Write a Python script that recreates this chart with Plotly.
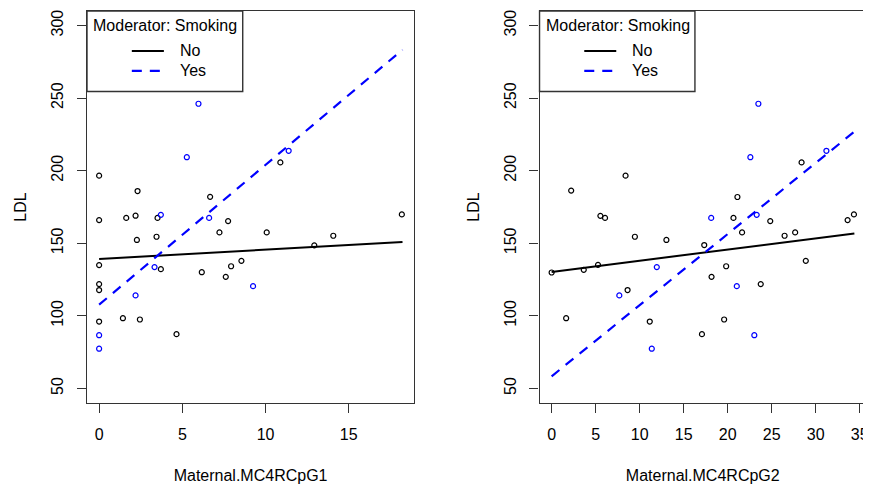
import plotly.graph_objects as go

# ---- data ----
left_no_x = [0, 2.31, 6.67, 1.63, 2.19, 3.51, 7.75, 2.27, 3.45, 7.23, 10.07, 14.07, 12.93, 18.19,
             0, 3.71, 6.17, 8.55, 7.93, 7.61, 0, 0, 0, 1.43, 2.45, 4.65, 0, 10.89]
left_no_y = [166, 186, 182, 167.5, 169, 167.5, 165.3, 152.3, 154.5, 157.5, 157.5, 155.2, 148.6, 169.9,
             135, 132.2, 130.1, 137.9, 134.2, 126.9, 121.9, 117.8, 96.1, 98.4, 97.5, 87.4, 196.6, 205.7]
left_yes_x = [5.97, 5.27, 11.39, 3.71, 6.61, 3.33, 2.19, 9.25, 0, 0]
left_yes_y = [246.1, 209.3, 213.7, 169.6, 167.5, 133.6, 114.1, 120.5, 86.7, 77.4]

right_no_x = [2.22, 21.11, 5.54, 6.07, 20.66, 24.84, 21.64, 26.47, 27.67, 33.63, 34.35, 9.46, 13.04, 17.34,
              5.27, 0, 3.65, 19.83, 18.17, 28.88, 23.76, 8.63, 1.65, 19.6, 11.15, 17.08, 8.4, 28.4]
right_no_y = [186.3, 181.9, 168.9, 167.5, 167.5, 165.3, 157.5, 155.2, 157.5, 166, 169.9, 154.5, 152.3, 148.8,
              135.1, 129.9, 131.7, 134.2, 126.9, 137.9, 121.9, 117.8, 98.4, 97.5, 96.1, 87.4, 196.6, 205.7]
right_yes_x = [23.49, 22.58, 31.22, 18.13, 23.3, 11.95, 7.69, 21.04, 23.03, 11.38]
right_yes_y = [246.1, 209.3, 213.7, 167.5, 169.6, 133.6, 114.1, 120.5, 86.7, 77.4]

left_line_x = [0, 18.23]
left_no_line_y = [139.2, 150.9]
left_yes_line_y = [107.7, 283.3]
right_line_x = [0, 34.4]
right_no_line_y = [130.3, 156.8]
right_yes_line_y = [58.4, 226.9]

x_titles = ["Maternal.MC4RCpG1", "Maternal.MC4RCpG2"]
y_title = "LDL"
legend_title = "Moderator: Smoking"
groups = ["No", "Yes"]
left_xticks = [0, 5, 10, 15]
right_xticks = [0, 5, 10, 15, 20, 25, 30, 35]
y_ticks = [50, 100, 150, 200, 250, 300]

BLACK = "#000000"
FRAME = "#333333"
BLUE = "#0000FF"
FONT = "Arial, Liberation Sans, sans-serif"

fig = go.Figure()

panels = [
    ("x", "y", left_no_x, left_no_y, left_yes_x, left_yes_y, left_line_x, left_no_line_y, left_line_x, left_yes_line_y),
    ("x2", "y2", right_no_x, right_no_y, right_yes_x, right_yes_y, right_line_x, right_no_line_y, right_line_x, right_yes_line_y),
]
for xa, ya, nx, ny, yx, yy, lnx, lny, lyx, lyy in panels:
    fig.add_trace(go.Scatter(x=nx, y=ny, mode="markers", xaxis=xa, yaxis=ya, showlegend=False,
                             marker=dict(symbol="circle-open", size=5, color=BLACK, line=dict(width=1.2, color=BLACK))))
    fig.add_trace(go.Scatter(x=yx, y=yy, mode="markers", xaxis=xa, yaxis=ya, showlegend=False,
                             marker=dict(symbol="circle-open", size=5, color=BLUE, line=dict(width=1.2, color=BLUE))))
    fig.add_trace(go.Scatter(x=lnx, y=lny, mode="lines", xaxis=xa, yaxis=ya, name=groups[0], showlegend=False,
                             line=dict(color=BLACK, width=2)))
    fig.add_trace(go.Scatter(x=lyx, y=lyy, mode="lines", xaxis=xa, yaxis=ya, name=groups[1], showlegend=False,
                             line=dict(color=BLUE, width=2.2, dash="10px,8px")))

axis_common = dict(showline=True, mirror=True, linecolor=FRAME, linewidth=1.4, showgrid=False, zeroline=False,
                   ticks="outside", ticklen=9, tickcolor=FRAME, tickwidth=1.2,
                   tickfont=dict(family=FONT, size=16, color=BLACK))

# page has an 8px body margin; compensate so plot boxes land where the reference has them
OFF = 8
W, H = 871 - OFF, 486 - OFF
L = 87 - OFF
T = 10 - OFF
R = W - (868 - OFF)
B = H - (402.7 - OFF)
plot_w = W - L - R
left_dom = [0, (415 - 87) / plot_w]
right_dom = [(540.7 - 87) / plot_w, 1]

fig.update_layout(
    width=W, height=H,
    margin=dict(l=L, r=R, t=T, b=B),
    paper_bgcolor="white", plot_bgcolor="white",
    font=dict(family=FONT, size=16, color=BLACK),
    xaxis=dict(domain=left_dom, range=[-0.728, 18.93], tickvals=left_xticks, anchor="y",
               title=dict(text=x_titles[0], standoff=27, font=dict(size=16)), ticklabelstandoff=8, **axis_common),
    yaxis=dict(domain=[0, 1], range=[40, 310], tickvals=y_ticks, anchor="x", tickangle=-90,
               title=dict(text=y_title, standoff=18, font=dict(size=16)), ticklabelstandoff=7, **axis_common),
    xaxis2=dict(domain=right_dom, range=[-1.374, 35.72], tickvals=right_xticks, anchor="y2",
                title=dict(text=x_titles[1], standoff=27, font=dict(size=16)), ticklabelstandoff=8,
                ticklabeloverflow="allow", **axis_common),
    yaxis2=dict(domain=[0, 1], range=[40, 310], tickvals=y_ticks, anchor="x2", tickangle=-90,
                title=dict(text=y_title, standoff=18, font=dict(size=16)), ticklabelstandoff=7, **axis_common),
)

# manual legends (one per panel)
box_r = 0.476
box_b = 0.7945
for xa, ya in [("x", "y"), ("x2", "y2")]:
    xr = f"{xa} domain"
    yr = f"{ya} domain"
    fig.add_shape(type="rect", xref=xr, yref=yr, x0=0, x1=box_r, y0=box_b, y1=1,
                  line=dict(color=FRAME, width=1.4), fillcolor="white", layer="above")
    fig.add_annotation(xref=xr, yref=yr, x=0.0134, y=0.9618, text=legend_title, showarrow=False,
                       xanchor="left", yanchor="middle", font=dict(family=FONT, size=16, color=BLACK))
    fig.add_shape(type="line", xref=xr, yref=yr, x0=0.137, x1=0.235, y0=0.898, y1=0.898,
                  line=dict(color=BLACK, width=2), layer="above")
    fig.add_shape(type="line", xref=xr, yref=yr, x0=0.137, x1=0.235, y0=0.8473, y1=0.8473,
                  line=dict(color=BLUE, width=2.2, dash="10px,8px"), layer="above")
    fig.add_annotation(xref=xr, yref=yr, x=0.2777, y=0.898, text=groups[0], showarrow=False,
                       xanchor="left", yanchor="middle", font=dict(family=FONT, size=16, color=BLACK))
    fig.add_annotation(xref=xr, yref=yr, x=0.2777, y=0.8473, text=groups[1], showarrow=False,
                       xanchor="left", yanchor="middle", font=dict(family=FONT, size=16, color=BLACK))

# keep the page from showing scrollbars (the body margin would otherwise overflow the window)
fig.write_html("out.html", post_script="document.documentElement.style.overflow='hidden';")
